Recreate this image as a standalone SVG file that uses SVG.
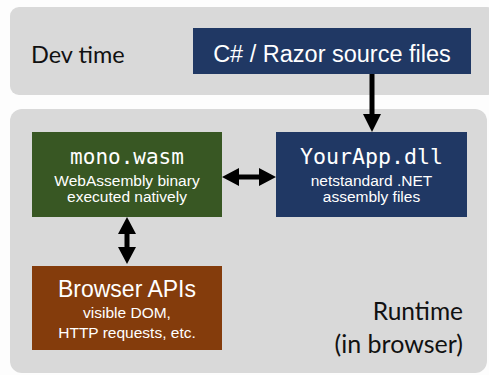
<svg xmlns="http://www.w3.org/2000/svg" width="489" height="375" viewBox="0 0 489 375">
<style>
.panel{fill:#d9d9d9}
.lbl{font-family:"Lato","Liberation Sans",sans-serif;fill:#111;font-size:23.5px}
.t{font-family:"Liberation Sans",Arial,sans-serif;fill:#fff;text-anchor:middle}
.mono{font-family:"DejaVu Sans Mono","Liberation Mono",monospace;fill:#fff;text-anchor:middle;font-size:21px}
.sub{font-size:15.5px}
.arr{fill:#000}
</style>
<rect width="489" height="375" fill="#fdfdfd"/>
<g id="devtime">
<rect class="panel" x="10" y="7" width="486" height="88" rx="9"/>
<text class="lbl" x="31" y="63">Dev time</text>
</g>
<g id="runtime">
<rect class="panel" x="10" y="109" width="477" height="264" rx="12"/>
<text class="lbl" x="463" y="320" text-anchor="end" style="font-size:24.5px">Runtime</text>
<text class="lbl" x="463" y="353" text-anchor="end" style="font-size:25px">(in browser)</text>
</g>
<g id="source">
<rect x="193" y="28" width="278" height="46" fill="#203864"/>
<text class="t" x="332" y="62" style="font-size:23.5px">C# / Razor source files</text>
</g>
<g id="mono">
<rect x="32" y="132" width="190" height="85" fill="#385723"/>
<text class="mono" x="127" y="164" fill="#eef3e8">mono.wasm</text>
<text class="t sub" x="127" y="186">WebAssembly binary</text>
<text class="t sub" x="127" y="202">executed natively</text>
</g>
<g id="yourapp">
<rect x="276" y="132" width="191" height="85" fill="#203864"/>
<text class="mono" x="371.5" y="164" style="font-size:21.6px">YourApp.dll</text>
<text class="t sub" x="371.5" y="186">netstandard .NET</text>
<text class="t sub" x="371.5" y="202">assembly files</text>
</g>
<g id="browser">
<rect x="32" y="266" width="190" height="84" fill="#843c0c"/>
<text class="t" x="127" y="297" style="font-size:23px">Browser APIs</text>
<text class="t sub" x="127" y="318">visible DOM,</text>
<text class="t sub" x="127" y="338">HTTP requests, etc.</text>
</g>
<g id="connectors">
<path class="arr" d="M369.5 74 H374.5 V114 H381 L372 132 L363 114 H369.5 Z"/>
<path class="arr" d="M222 177 L239 168 V174.5 H259 V168 L276 177 L259 186 V179.5 H239 V186 Z"/>
<path class="arr" d="M127 217 L136 234 H129.5 V247 H136 L127 264 L118 247 H124.5 V234 H118 Z"/>
</g>
</svg>
